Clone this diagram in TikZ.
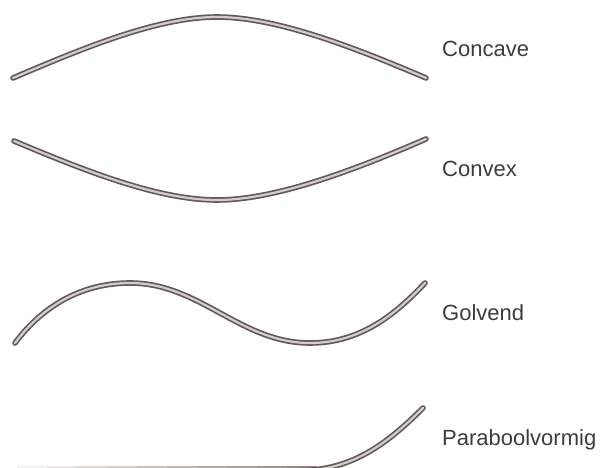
\documentclass[tikz,border=0pt]{standalone}
\usepackage{fontspec}
\setmainfont{Liberation Sans}
\usepackage{xcolor}
\usepackage{tikz}
\definecolor{rodedge}{RGB}{100,88,88}
\definecolor{rodcore}{RGB}{212,205,205}
\definecolor{txtgray}{RGB}{60,60,60}

\begin{document}
\begin{tikzpicture}[x=1pt, y=-1pt,
      rod/.style={draw=rodedge, double=rodcore, line width=1.7pt,
                  double distance=2.2pt, line cap=round},
      txt/.style={anchor=base west, inner sep=0pt, text=txtgray,
                  font=\fontsize{22}{26}\selectfont}
    ]
    \useasboundingbox (0,0) rectangle (614,468);
    \clip (0,0) rectangle (614,468);

    % concave
    \draw[rod] (13,78) .. controls (90,45) and (160,17) .. (217,17)
                       .. controls (274,17) and (349,45) .. (426,78);
    % convex
    \draw[rod] (14,141) .. controls (90,173) and (160,200) .. (217,200)
                        .. controls (274,200) and (350,172) .. (426,139);
    % golvend
    \draw[rod] (15,343) .. controls (45,303) and (85,283) .. (130,283)
                        .. controls (200,283) and (240,343) .. (310,343)
                        .. controls (360,343) and (395,315) .. (425,283);
    % paraboolvormig
    \foreach \i in {0,...,9}
      \draw[line width=1.8pt, rodedge!\the\numexpr 8+\i*7\relax]
        ({17+\i*30},467) -- ({47+\i*30},467);
    \draw[rod] (300,470.5) .. controls (350,470.5) and (385,446) .. (423,408);

    \node[txt] (concave) at (442,57)  {Concave};
    \node[txt] (convex)  at (442,177) {Convex};
    \node[txt] (golvend) at (442,320) {Golvend};
    \node[txt] (parabool) at (442,445) {Paraboolvormig};
  \end{tikzpicture}
\end{document}
